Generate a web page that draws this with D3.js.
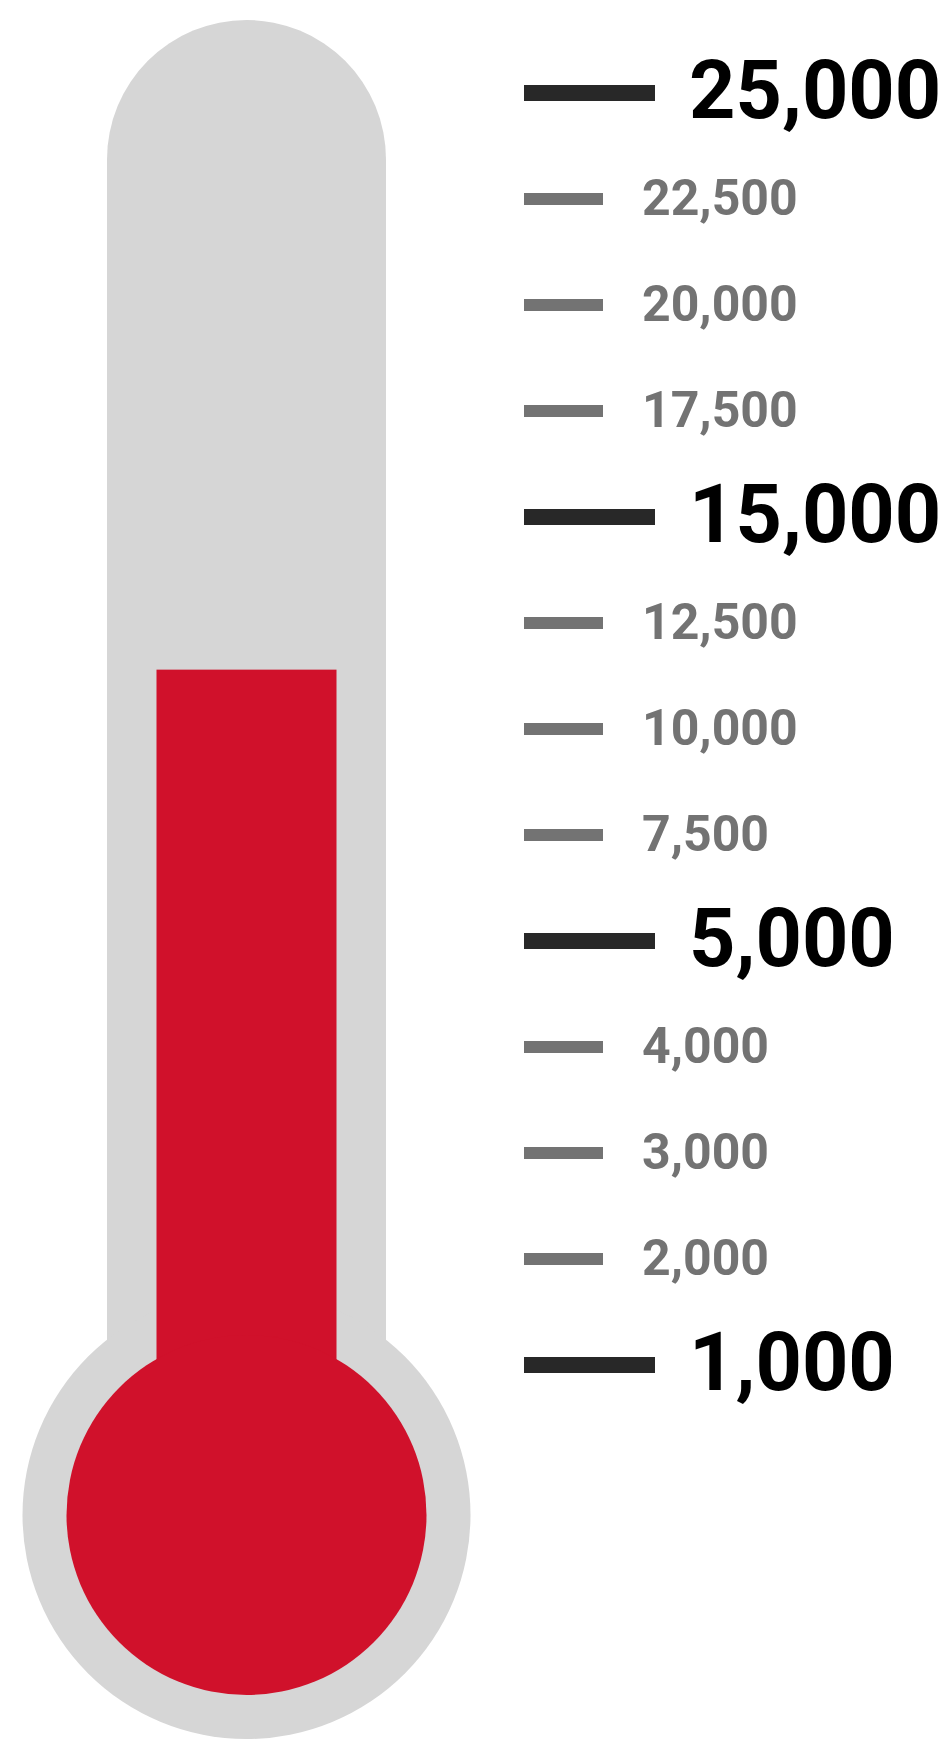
<!DOCTYPE html>
<html>
<head>
<meta charset="utf-8">
<script src="https://cdn.jsdelivr.net/npm/d3@7"></script>
<style>
  body { margin: 0; background: #fff; }
  svg { display: block; }
  .tick-label { font-family: Roboto, "Noto Sans", sans-serif; font-weight: 700; }
</style>
</head>
<body>
<div id="thermo"></div>
<script>
// scale labels, top to bottom
var tickValues = [25000, 22500, 20000, 17500, 15000, 12500, 10000, 7500, 5000, 4000, 3000, 2000, 1000];
// the big dark ones
var majorTicks = [25000, 15000, 5000, 1000];
// current reading of the thermometer
var currentValue = 11400;

var width = 947, height = 1746;
var cx = 246.5;
var tubeOuter = 279, tubeInner = 180;
var tubeTop = 20;
var bulbY = 1515, bulbOuterR = 224, bulbInnerR = 180;

var svg = d3.select("#thermo").append("svg")
    .attr("width", width)
    .attr("height", height);

// ticks evenly spaced, whatever the value gap
var yPoint = d3.scalePoint()
    .domain(tickValues)
    .range([93, 1365]);

// piecewise mapping value -> y for the fill level
var yValue = d3.scaleLinear()
    .domain(tickValues)
    .range(tickValues.map(function(d){ return yPoint(d); }))
    .clamp(true);

var fmt = d3.format(",");

// grey glass: rounded tube + bulb
svg.append("rect")
    .attr("x", cx - tubeOuter / 2)
    .attr("y", tubeTop)
    .attr("width", tubeOuter)
    .attr("height", bulbY - tubeTop)
    .attr("rx", tubeOuter / 2)
    .attr("fill", "#d6d6d6");

svg.append("circle")
    .attr("cx", cx)
    .attr("cy", bulbY)
    .attr("r", bulbOuterR)
    .attr("fill", "#d6d6d6");

// red mercury
var fillTop = yValue(currentValue);
svg.append("rect")
    .attr("x", cx - tubeInner / 2)
    .attr("y", fillTop)
    .attr("width", tubeInner)
    .attr("height", bulbY - fillTop)
    .attr("fill", "#d0112b");

svg.append("circle")
    .attr("cx", cx)
    .attr("cy", bulbY)
    .attr("r", bulbInnerR)
    .attr("fill", "#d0112b");

// tick marks and labels
var isMajor = function(d){ return majorTicks.indexOf(d) >= 0; };

var ticks = svg.append("g").selectAll("g")
    .data(tickValues)
    .enter()
    .append("g")
    .attr("transform", function(d){ return "translate(0," + yPoint(d) + ")"; });

ticks.append("rect")
    .attr("x", 524)
    .attr("y", function(d){ return isMajor(d) ? -8 : -6; })
    .attr("width", function(d){ return isMajor(d) ? 131 : 79; })
    .attr("height", function(d){ return isMajor(d) ? 16 : 12; })
    .attr("fill", function(d){ return isMajor(d) ? "#282828" : "#737373"; });

ticks.append("text")
    .attr("class", "tick-label")
    .attr("x", function(d){ return isMajor(d) ? 689 : 642; })
    .attr("y", function(d){ return isMajor(d) ? 25 : 16; })
    .attr("font-size", function(d){ return isMajor(d) ? 81 : 50; })
    .attr("fill", function(d){ return isMajor(d) ? "#000" : "#737373"; })
    .text(function(d){ return fmt(d); });
</script>
</body>
</html>
